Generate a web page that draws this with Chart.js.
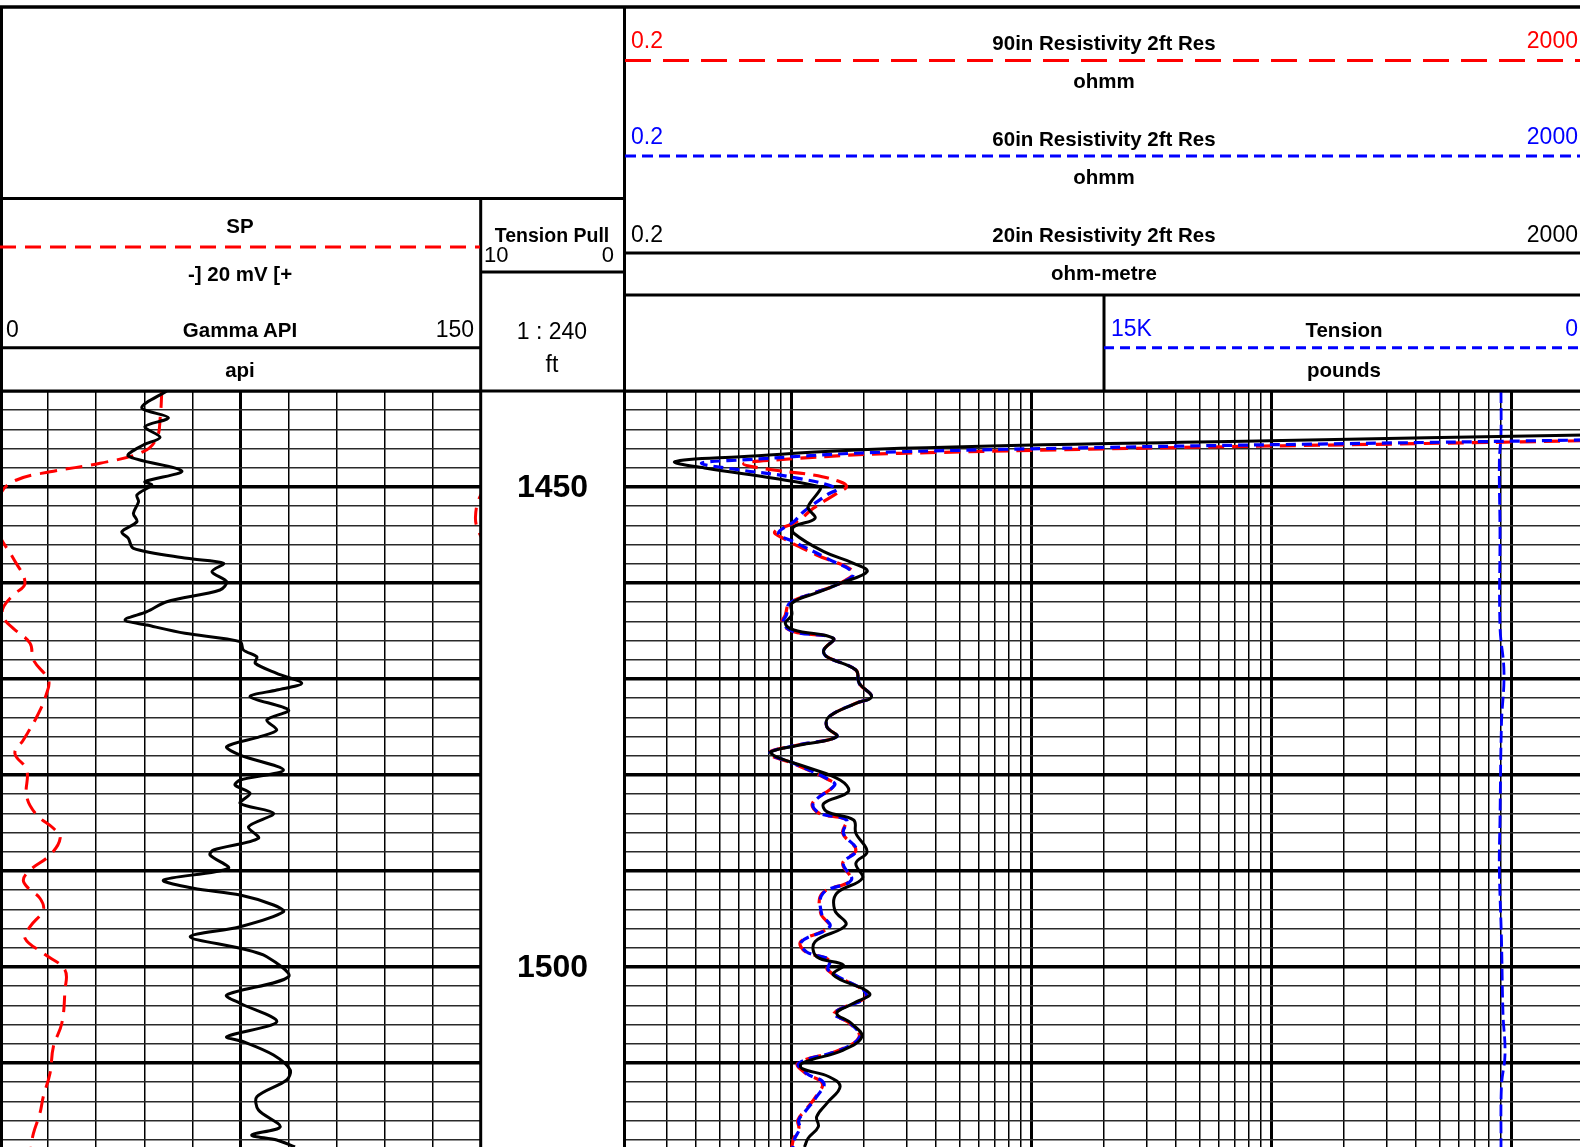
<!DOCTYPE html>
<html>
<head>
<meta charset="utf-8">
<title>Well log</title>
<script src="https://cdn.jsdelivr.net/npm/chart.js@4.4.1/dist/chart.umd.min.js"></script>
<style>
  html, body { margin: 0; padding: 0; background: #fff; overflow: hidden; }
  #page { position: relative; width: 1580px; height: 1147px; overflow: hidden; }
  .track { position: absolute; top: 391px; height: 756px; }
  .track canvas { display: block; }
  #head { position: absolute; left: 0; top: 0; width: 1580px; height: 1147px; pointer-events: none; }
  #head text { font-family: "Liberation Sans", Arial, sans-serif; }
</style>
</head>
<body>
<div id="page">
  <div class="track" style="left:0;width:481px"><canvas id="left" width="481" height="756"></canvas></div>
  <div class="track" style="left:481px;width:143px"><canvas id="depth" width="143" height="756"></canvas></div>
  <div class="track" style="left:624px;width:960px"><canvas id="right" width="960" height="756"></canvas></div>
  <svg id="head" xmlns="http://www.w3.org/2000/svg" width="1580" height="1147"></svg>
</div>
<script>
// depth window
const depthTop = 1440;
const depthBottom = 1518.75;
const depthLabels = [1450, 1500];
const gammaGrid = [0, 15, 30, 45, 60, 75, 90, 105, 120, 135, 150];
const spRange = [-100, 100];   // 20 mV per division
const tensionRange = [0, 15000];

// Gamma ray (API)
const gammaDepth = [1440.0, 1441.74, 1442.78, 1443.72, 1444.82, 1445.63, 1446.77, 1448.33, 1449.45, 1449.79,
  1450.83, 1451.53, 1452.74, 1453.61, 1454.66, 1455.34, 1456.39, 1457.43, 1457.95, 1458.82,
  1459.86, 1460.73, 1461.95, 1462.99, 1463.85, 1464.38, 1465.24, 1466.11, 1466.98, 1467.68,
  1468.36, 1469.41, 1470.45, 1471.15, 1471.84, 1473.23, 1474.27, 1475.31, 1476.01, 1477.05,
  1477.92, 1479.48, 1480.52, 1481.04, 1481.91, 1482.95, 1483.99, 1485.39, 1486.59, 1487.81,
  1488.33, 1489.72, 1490.94, 1491.80, 1492.50, 1493.54, 1494.24, 1495.80, 1496.84, 1498.05,
  1498.93, 1501.01, 1502.92, 1503.78, 1505.70, 1507.26, 1507.78, 1509.17, 1510.73, 1511.77,
  1513.51, 1514.90, 1516.64, 1517.50, 1518.02, 1518.75];
const gammaApi = [52.0, 44.2, 52.5, 45.2, 49.9, 44.7, 40.0, 56.7, 45.2, 47.3,
  42.7, 43.2, 41.6, 42.7, 38.0, 40.0, 41.6, 58.3, 69.7, 66.1,
  70.7, 68.6, 52.0, 45.8, 39.0, 45.8, 57.7, 74.9, 75.9, 80.1,
  79.6, 86.3, 94.1, 86.3, 78.0, 90.0, 83.2, 86.3, 81.1, 70.7,
  74.9, 88.4, 74.9, 73.3, 78.0, 74.9, 85.3, 77.5, 80.6, 66.6,
  65.5, 71.2, 51.0, 60.3, 74.9, 85.3, 88.4, 74.9, 59.3, 74.9,
  83.2, 90.0, 70.7, 74.9, 86.3, 70.7, 75.9, 85.3, 90.5, 89.4,
  80.1, 80.6, 87.4, 78.5, 86.3, 92.0];

// SP (mV)
const spDepth = [1440.0, 1442.81, 1444.90, 1446.32, 1447.53, 1448.41, 1449.27, 1450.49, 1453.13, 1455.18,
  1457.43, 1460.03, 1461.25, 1462.64, 1463.68, 1464.72, 1466.28, 1468.02, 1470.10, 1471.49,
  1473.93, 1476.35, 1477.74, 1479.48, 1482.26, 1484.17, 1485.55, 1486.59, 1488.33, 1489.90,
  1490.94, 1491.80, 1492.84, 1494.06, 1495.80, 1497.01, 1498.57, 1500.31, 1502.40, 1505.86,
  1508.30, 1511.07, 1513.51, 1515.24, 1517.32, 1518.75];
const spMv = [-32.7, -33.4, -34.8, -40.4, -58.4, -79.2, -93.1, -99.3, -102.3, -100.0,
  -94.5, -89.6, -94.5, -98.8, -98.4, -94.5, -87.5, -86.1, -79.9, -80.6,
  -84.7, -90.3, -93.8, -88.9, -88.9, -84.7, -77.8, -75.0, -79.2, -87.5,
  -90.3, -88.2, -83.4, -82.0, -87.5, -89.6, -82.0, -73.0, -73.0, -74.3,
  -77.8, -79.2, -82.0, -83.4, -86.1, -87.1];

// 20in resistivity (ohm-m)
const res20Depth = [1444.58, 1445.18, 1445.97, 1446.84, 1447.36, 1448.05, 1449.09, 1449.97, 1450.31, 1451.70,
  1452.22, 1453.26, 1454.14, 1454.82, 1456.74, 1457.95, 1458.82, 1460.03, 1460.91, 1462.11,
  1463.33, 1464.20, 1464.90, 1465.76, 1466.98, 1467.68, 1469.06, 1470.45, 1471.84, 1472.53,
  1473.92, 1474.97, 1476.01, 1476.88, 1477.57, 1478.09, 1479.14, 1480.52, 1481.74, 1482.95,
  1483.82, 1484.69, 1486.07, 1487.99, 1489.20, 1490.76, 1492.32, 1494.06, 1495.63, 1497.36,
  1498.93, 1499.79, 1500.83, 1502.74, 1503.78, 1504.82, 1505.86, 1507.26, 1508.65, 1510.03,
  1510.55, 1511.43, 1512.47, 1514.20, 1515.59, 1516.64, 1517.84, 1518.75];
const res20 = [2000, 97.4, 2.83, 0.61, 0.326, 0.44, 0.84, 1.31, 1.31, 1.19,
  1.17, 1.25, 1.02, 1.02, 1.36, 1.81, 2.06, 1.59, 1.31, 1.00,
  1.00, 0.94, 1.02, 1.49, 1.36, 1.40, 1.85, 1.91, 2.15, 1.85,
  1.43, 1.40, 1.54, 1.08, 0.82, 0.86, 1.14, 1.59, 1.72, 1.36,
  1.40, 1.81, 1.85, 2.06, 1.85, 1.97, 1.54, 1.51, 1.68, 1.25,
  1.27, 1.64, 1.49, 2.11, 1.81, 1.54, 1.77, 1.96, 1.64, 1.10,
  1.10, 1.43, 1.59, 1.40, 1.27, 1.29, 1.17, 1.13];

// 60in resistivity (ohmm)
const res60Depth = [1445.10, 1446.32, 1447.19, 1447.53, 1448.23, 1448.93, 1450.14, 1450.83, 1452.57, 1453.61,
  1454.82, 1455.70, 1457.43, 1458.99, 1460.03, 1461.07, 1462.11, 1463.33, 1464.20, 1465.07,
  1465.76, 1466.98, 1467.68, 1469.06, 1470.45, 1471.84, 1472.53, 1473.92, 1474.97, 1476.01,
  1476.88, 1477.74, 1478.78, 1480.52, 1481.04, 1482.95, 1483.99, 1484.69, 1486.07, 1487.81,
  1489.20, 1490.94, 1492.32, 1494.40, 1495.80, 1497.36, 1498.41, 1499.27, 1500.31, 1502.92,
  1504.82, 1505.86, 1507.26, 1508.65, 1510.03, 1511.07, 1512.11, 1513.51, 1514.90, 1515.94,
  1516.80, 1517.84, 1518.75];
const res60 = [2000, 2.83, 0.61, 0.42, 0.61, 0.98, 1.54, 1.40, 1.12, 1.02,
  0.88, 1.02, 1.40, 1.80, 1.59, 1.23, 0.98, 0.95, 0.92, 1.02,
  1.49, 1.36, 1.40, 1.85, 1.91, 2.15, 1.85, 1.43, 1.40, 1.54,
  1.06, 0.81, 1.02, 1.44, 1.51, 1.23, 1.31, 1.69, 1.64, 1.86,
  1.64, 1.77, 1.35, 1.33, 1.44, 1.10, 1.15, 1.44, 1.42, 2.05,
  1.51, 1.75, 1.92, 1.59, 1.07, 1.15, 1.36, 1.27, 1.15, 1.07,
  1.08, 1.03, 1.01];

// 90in resistivity (ohmm)
const res90Depth = [1445.18, 1446.49, 1447.19, 1447.60, 1448.23, 1448.75, 1449.45, 1449.97, 1450.66, 1452.22,
  1453.61, 1454.66, 1455.34, 1457.08, 1458.82, 1460.03, 1461.07, 1462.11, 1463.33, 1464.20,
  1465.07, 1465.76, 1466.98, 1467.68, 1469.06, 1470.45, 1471.84, 1472.53, 1473.92, 1474.97,
  1476.01, 1476.88, 1477.74, 1478.78, 1480.52, 1481.04, 1482.95, 1483.99, 1484.69, 1486.07,
  1487.81, 1489.20, 1490.94, 1492.32, 1494.40, 1495.80, 1497.36, 1498.41, 1499.27, 1500.31,
  1502.92, 1504.82, 1505.86, 1507.26, 1508.65, 1510.03, 1511.07, 1512.11, 1513.51, 1514.90,
  1515.94, 1516.80, 1517.84, 1518.75];
const res90 = [2000, 2.83, 0.84, 0.63, 0.84, 1.23, 1.59, 1.69, 1.54, 1.23,
  1.05, 0.85, 0.92, 1.27, 1.80, 1.59, 1.23, 0.98, 0.94, 0.91,
  1.02, 1.49, 1.36, 1.40, 1.85, 1.91, 2.15, 1.85, 1.43, 1.40,
  1.54, 1.06, 0.80, 1.01, 1.43, 1.51, 1.22, 1.30, 1.68, 1.63,
  1.85, 1.63, 1.76, 1.34, 1.32, 1.43, 1.09, 1.14, 1.43, 1.41,
  2.04, 1.50, 1.74, 1.91, 1.58, 1.06, 1.14, 1.34, 1.26, 1.14,
  1.06, 1.07, 1.02, 1.00];

// cable tension (pounds)
const tensionDepth = [1440.0, 1444.4, 1447.4, 1454.5, 1464.5, 1469.3, 1474.6, 1484.7, 1489.7, 1497.2,
  1504.8, 1509.1, 1512.3, 1518.75];
const tensionLbs = [1297, 1297, 1323, 1313, 1313, 1250, 1289, 1313, 1323, 1289,
  1266, 1234, 1289, 1297];

// log grid: 2..9 in each decade from 0.2 to 2000
const resGrid = [];
[0.1, 1, 10, 100, 1000].forEach(dec => {
  for (let m = 1; m <= 9; m++) {
    const v = +(m * dec).toPrecision(6);
    if (v >= 0.2 && v <= 2000) resGrid.push(v);
  }
});
const depthGrid = [];
for (let d = depthTop; d <= depthBottom; d += 2) depthGrid.push(d);

const pts = (depths, vals) => vals.map((v, i) => ({ x: v, y: depths[i] }));
const isDecade = v => Math.abs(Math.log10(v) - Math.round(Math.log10(v))) < 1e-6;

const depthScale = showGrid => ({
  type: 'linear',
  reverse: true,
  min: depthTop,
  max: depthBottom,
  display: showGrid,
  afterBuildTicks: s => { s.ticks = depthGrid.map(v => ({ value: v })); },
  ticks: { display: false },
  grid: {
    display: showGrid,
    drawTicks: false,
    color: c => (c.tick && c.tick.value % 10 === 0 ? '#000' : '#2a2a2a'),
    lineWidth: c => (c.tick && c.tick.value % 10 === 0 ? 3.5 : 1.6)
  },
  border: { display: false }
});

const baseOptions = scales => ({
  responsive: false,
  animation: false,
  events: [],
  layout: { padding: 0 },
  plugins: { legend: { display: false }, tooltip: { enabled: false } },
  elements: { point: { radius: 0 }, line: { capBezierPoints: false, fill: false } },
  scales
});

const curve = (data, axis, color, width, dash, tension) => ({
  data, xAxisID: axis, yAxisID: 'y', showLine: true, clip: 0,
  borderColor: color, borderWidth: width, borderDash: dash || [], tension
});

// track 1: gamma + SP
new Chart(document.getElementById('left'), {
  type: 'scatter',
  data: {
    datasets: [
      curve(pts(gammaDepth, gammaApi), 'gr', '#000', 3, null, 0.3),
      curve(pts(spDepth, spMv), 'sp', '#ff0000', 3, [17, 9], 0.4),
      // SP wrapped back in from the right edge
      curve(pts(spDepth, spMv.map(v => v + (spRange[1] - spRange[0]))), 'sp', '#ff0000', 3, [17, 9], 0.4)
    ]
  },
  options: baseOptions({
    gr: {
      type: 'linear', position: 'bottom', min: gammaGrid[0], max: gammaGrid[gammaGrid.length - 1],
      afterBuildTicks: s => { s.ticks = gammaGrid.map(v => ({ value: v })); },
      ticks: { display: false },
      grid: { drawTicks: false, color: '#000', lineWidth: c => (c.tick && c.tick.value === 75 ? 3 : 1.5) },
      border: { display: false }
    },
    sp: { type: 'linear', display: false, min: spRange[0], max: spRange[1] },
    y: depthScale(true)
  })
});

// depth track
const depthLabelPlugin = {
  id: 'depthLabels',
  afterDraw(chart) {
    const { ctx, chartArea, scales } = chart;
    ctx.save();
    ctx.font = 'bold 32px "Liberation Sans", Arial, sans-serif';
    ctx.fillStyle = '#000';
    ctx.textAlign = 'center';
    ctx.textBaseline = 'middle';
    depthLabels.forEach(d => {
      ctx.fillText(String(d), (chartArea.left + chartArea.right) / 2, scales.y.getPixelForValue(d) + 1);
    });
    ctx.restore();
  }
};
new Chart(document.getElementById('depth'), {
  type: 'scatter',
  data: { datasets: [] },
  options: baseOptions({
    x: { type: 'linear', display: false, min: 0, max: 1 },
    y: depthScale(false)
  }),
  plugins: [depthLabelPlugin]
});

// track 2: resistivity + tension
new Chart(document.getElementById('right'), {
  type: 'scatter',
  data: {
    datasets: [
      curve(pts(res20Depth, res20), 'res', '#000', 3, null, 0.4),
      curve(pts(res60Depth, res60), 'res', '#0000ff', 3.2, [10, 6], 0.4),
      curve(pts(res90Depth, res90), 'res', '#ff0000', 3.2, [16, 8], 0.4),
      curve(pts(tensionDepth, tensionLbs), 'ten', '#0000ff', 2.8, [12, 5], 0.4)
    ]
  },
  options: baseOptions({
    res: {
      type: 'logarithmic', position: 'bottom', min: 0.2, max: 2000,
      afterBuildTicks: s => { s.ticks = resGrid.map(v => ({ value: v })); },
      ticks: { display: false },
      grid: { drawTicks: false, color: '#000', lineWidth: c => (c.tick && isDecade(c.tick.value) ? 3 : 1.5) },
      border: { display: false }
    },
    ten: { type: 'linear', display: false, min: tensionRange[0], max: tensionRange[1], reverse: true },
    y: depthScale(true)
  })
});

// header and frame
const svg = document.getElementById('head');
const NS = 'http://www.w3.org/2000/svg';
function line(x1, y1, x2, y2, color, width, dash) {
  const el = document.createElementNS(NS, 'line');
  el.setAttribute('x1', x1); el.setAttribute('y1', y1);
  el.setAttribute('x2', x2); el.setAttribute('y2', y2);
  el.setAttribute('stroke', color);
  el.setAttribute('stroke-width', width);
  if (dash) el.setAttribute('stroke-dasharray', dash.join(' '));
  svg.appendChild(el);
}
function label(str, x, y, anchor, size, bold, color) {
  const el = document.createElementNS(NS, 'text');
  el.setAttribute('x', x); el.setAttribute('y', y);
  el.setAttribute('text-anchor', anchor);
  el.setAttribute('dominant-baseline', 'central');
  el.setAttribute('font-size', size);
  if (bold) el.setAttribute('font-weight', 'bold');
  el.setAttribute('fill', color || '#000');
  el.textContent = str;
  svg.appendChild(el);
}
const RED = '#ff0000', BLUE = '#0000ff';

// frame
line(0, 7, 1580, 7, '#000', 3.5);
line(0, 198.5, 625, 198.5, '#000', 3);
line(1.5, 7, 1.5, 1147, '#000', 3);
line(480.7, 198.5, 480.7, 1147, '#000', 3);
line(624.5, 7, 624.5, 1147, '#000', 3);
line(0, 391, 1580, 391, '#000', 3);
line(625, 295, 1580, 295, '#000', 3);
line(1104, 295, 1104, 391, '#000', 3);

// track 1 header
label('SP', 240, 225, 'middle', 20.5, true);
line(0, 247, 480, 247, RED, 3, [16, 9]);
label('-] 20 mV [+', 240, 273, 'middle', 20.5, true);
label('0', 6, 329, 'start', 23);
label('Gamma API', 240, 329.5, 'middle', 20.5, true);
label('150', 474, 329, 'end', 23);
line(0, 347.7, 480, 347.7, '#000', 3);
label('api', 240, 369, 'middle', 20.5, true);

// depth header
label('Tension Pull', 552, 235, 'middle', 19.5, true);
label('10', 484, 254, 'start', 22);
label('0', 614, 254, 'end', 22);
line(481, 272, 624, 272, '#000', 3);
label('1 : 240', 552, 330.5, 'middle', 23);
label('ft', 552, 364, 'middle', 23);

// track 2 header
label('0.2', 631, 40.3, 'start', 23, false, RED);
label('90in Resistivity 2ft Res', 1104, 42.5, 'middle', 20.5, true);
label('2000', 1578, 40.3, 'end', 23, false, RED);
line(625, 60.5, 1580, 60.5, RED, 3, [26, 12]);
label('ohmm', 1104, 80.6, 'middle', 20.5, true);

label('0.2', 631, 136, 'start', 23, false, BLUE);
label('60in Resistivity 2ft Res', 1104, 138, 'middle', 20.5, true);
label('2000', 1578, 136, 'end', 23, false, BLUE);
line(625, 156, 1580, 156, BLUE, 3, [11, 6]);
label('ohmm', 1104, 176, 'middle', 20.5, true);

label('0.2', 631, 233.8, 'start', 23);
label('20in Resistivity 2ft Res', 1104, 234, 'middle', 20.5, true);
label('2000', 1578, 233.8, 'end', 23);
line(625, 253, 1580, 253, '#000', 3);
label('ohm-metre', 1104, 272, 'middle', 20.5, true);

label('15K', 1111, 328, 'start', 23, false, BLUE);
label('Tension', 1344, 329.5, 'middle', 20.5, true);
label('0', 1578, 328, 'end', 23, false, BLUE);
line(1104, 347.7, 1580, 347.7, BLUE, 3, [10, 6]);
label('pounds', 1344, 369, 'middle', 20.5, true);
</script>
</body>
</html>
